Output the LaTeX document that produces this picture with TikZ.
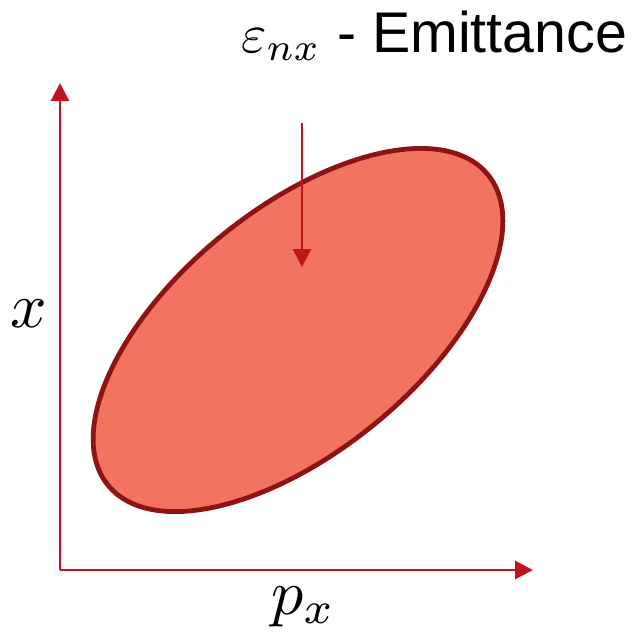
\documentclass[tikz,border=0pt]{standalone}
\usepackage{fontspec}
\setmainfont{Liberation Sans}
\usetikzlibrary{arrows.meta,shapes.geometric}
\definecolor{axisred}{HTML}{C0161B}
\definecolor{rimred}{HTML}{8E1414}
\definecolor{fillred}{HTML}{F27360}
\tikzset{
  axisline/.style={draw=axisred, line width=2.2pt, -{Triangle[length=13.5pt,width=13.5pt]}},
  pointer/.style={draw=axisred, line width=1.6pt, -{Triangle[length=13.5pt,width=13.5pt]}},
  phase/.style={ellipse, draw=rimred, fill=fillred, line width=3.6pt, inner sep=0pt,
    minimum width=368pt, minimum height=182pt, rotate=39.3},
  bigmath/.style={inner sep=0pt, scale=4.8},
  title/.style={inner sep=0pt, anchor=base west}
}
\begin{document}
\begin{tikzpicture}[x=0.75pt,y=-0.75pt]
\useasboundingbox (0,0) rectangle (641,633);
\coordinate (O) at (60,570);
\coordinate (ytip) at (60,83);
\coordinate (xtip) at (533,570);
\node[phase] (emit) at (298,330) {};
\draw[axisline] (O) -- (ytip);
\draw[axisline] (O) -- (xtip);
\node[bigmath, anchor=base] (xl) at (29,327) {$x$};
\node[bigmath, anchor=base west] (pl) at (270,614) {$p_x$};
\node[title, scale=4.1] (eps) at (240,52) {$\varepsilon_{nx}$};
\node[title, font=\fontsize{43}{50}\selectfont] (lbl) at (337,52) {- Emittance};
\coordinate (ps) at (302,123);
\coordinate (pe) at (302,267);
\draw[pointer] (ps) -- (pe);
\end{tikzpicture}
\end{document}
